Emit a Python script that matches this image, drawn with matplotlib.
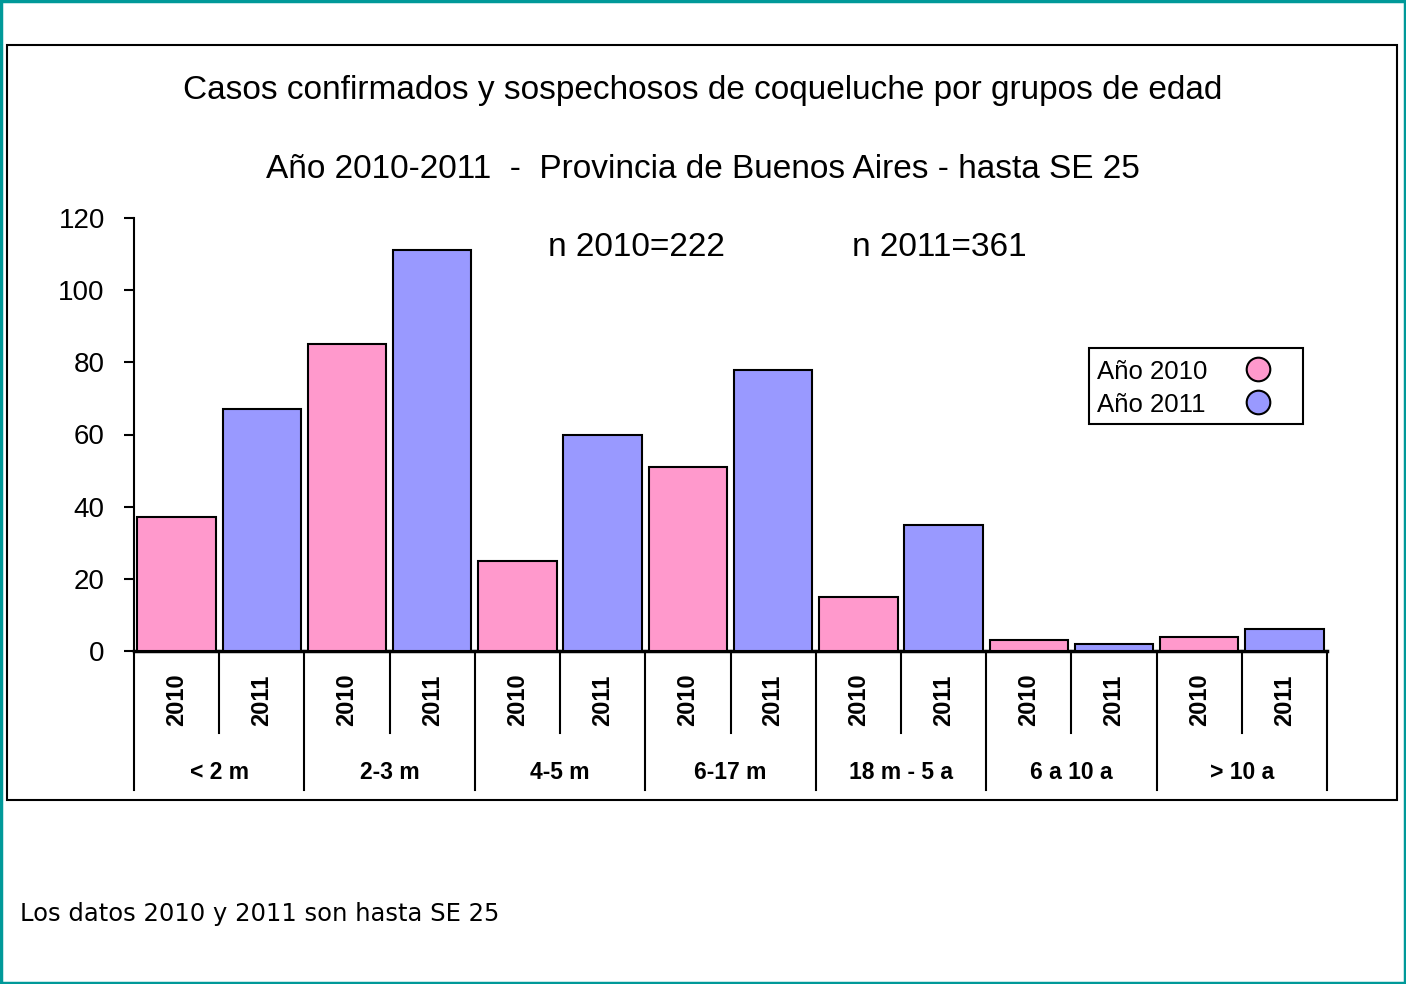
import matplotlib
matplotlib.use("Agg")
import matplotlib.pyplot as plt
from matplotlib.lines import Line2D
from matplotlib.patches import Rectangle
import matplotlib.transforms as mtransforms

# data
groups = ["< 2 m", "2-3 m", "4-5 m", "6-17 m", "18 m - 5 a", "6 a 10 a", "> 10 a"]
years = ["2010", "2011"]
casos_2010 = [37, 85, 25, 51, 15, 3, 4]
casos_2011 = [67, 111, 60, 78, 35, 2, 6]
legend_labels = ["Año 2010", "Año 2011"]

pink = "#FF99CC"
blue = "#9999FF"

plt.rcParams['font.family'] = ['Liberation Sans', 'DejaVu Sans']

fig = plt.figure(figsize=(14.06, 9.84), dpi=100)
W, H = 1406, 984

# outer teal frame and inner black chart frame
fig.patches.append(Rectangle((0.0007, 0.001), 0.9986, 0.998, transform=fig.transFigure,
                             fill=False, edgecolor="#009999", linewidth=2.5))
fig.patches.append(Rectangle((7 / W, 1 - 800 / H), 1390 / W, 755 / H, transform=fig.transFigure,
                             fill=False, edgecolor="black", linewidth=1.5))

ax = fig.add_axes([134 / W, 1 - 651 / H, (1327 - 134) / W, (651 - 218) / H])

xs, vals, cols, ylabels = [], [], [], []
for i in range(len(groups)):
    xs += [2 * i, 2 * i + 1]
    vals += [casos_2010[i], casos_2011[i]]
    cols += [pink, blue]
    ylabels += years

ax.bar(xs, vals, width=0.92, color=cols, edgecolor="black", linewidth=1.5, zorder=3)
ax.set_xlim(-0.5, 2 * len(groups) - 0.5)
ax.set_ylim(0, 120)
ax.set_yticks(range(0, 121, 20))
ax.tick_params(axis='y', labelsize=20, length=7, width=1.5, direction='out', pad=14)
ax.set_xticks([])
for s in ["top", "right"]:
    ax.spines[s].set_visible(False)
ax.spines["left"].set_linewidth(1.5)
ax.spines["bottom"].set_linewidth(2.5)

trans = mtransforms.blended_transform_factory(ax.transData, ax.transAxes)
# short separators between years, long ones between groups
for k in range(2 * len(groups) + 1):
    x = k - 0.5
    y_end = -0.321 if k % 2 == 0 else -0.189
    ax.add_line(Line2D([x, x], [0, y_end], transform=trans, color="black",
                       linewidth=1.5, clip_on=False))
for x, lab in zip(xs, ylabels):
    ax.text(x, -0.113, lab, transform=trans, rotation=90, ha="center", va="center",
            fontsize=17, fontweight="bold")
for i, g in enumerate(groups):
    ax.text(2 * i + 0.5, -0.281, g, transform=trans, ha="center", va="center",
            fontsize=16.5, fontweight="bold")

fig.text(0.5, 1 - 90 / H, "Casos confirmados y sospechosos de coqueluche por grupos de edad",
         ha="center", va="center", fontsize=24)
fig.text(0.5, 1 - 169 / H, "Año 2010-2011  -  Provincia de Buenos Aires - hasta SE 25",
         ha="center", va="center", fontsize=24)
fig.text(548 / W, 1 - 247 / H, "n 2010=222", ha="left", va="center", fontsize=24)
fig.text(852 / W, 1 - 247 / H, "n 2011=361", ha="left", va="center", fontsize=24)

# legend box drawn by hand to match its placement
fig.patches.append(Rectangle((1089 / W, 1 - 424 / H), 214 / W, 76 / H, transform=fig.transFigure,
                             facecolor="white", edgecolor="black", linewidth=1.5))
for lab, c, yp in zip(legend_labels, [pink, blue], [372, 405]):
    fig.text(1097 / W, 1 - yp / H, lab, ha="left", va="center", fontsize=18.5)
    fig.add_artist(Line2D([1258 / W], [1 - (yp - 3) / H], transform=fig.transFigure,
                          marker="o", markersize=17, markerfacecolor=c,
                          markeredgecolor="black", markeredgewidth=1.5, linestyle="none"))

fig.text(20 / W, 1 - 914 / H, "Los datos 2010 y 2011 son hasta SE 25", ha="left", va="center",
         fontsize=17.5, family="DejaVu Sans")

fig.savefig("out.png", dpi=100)
